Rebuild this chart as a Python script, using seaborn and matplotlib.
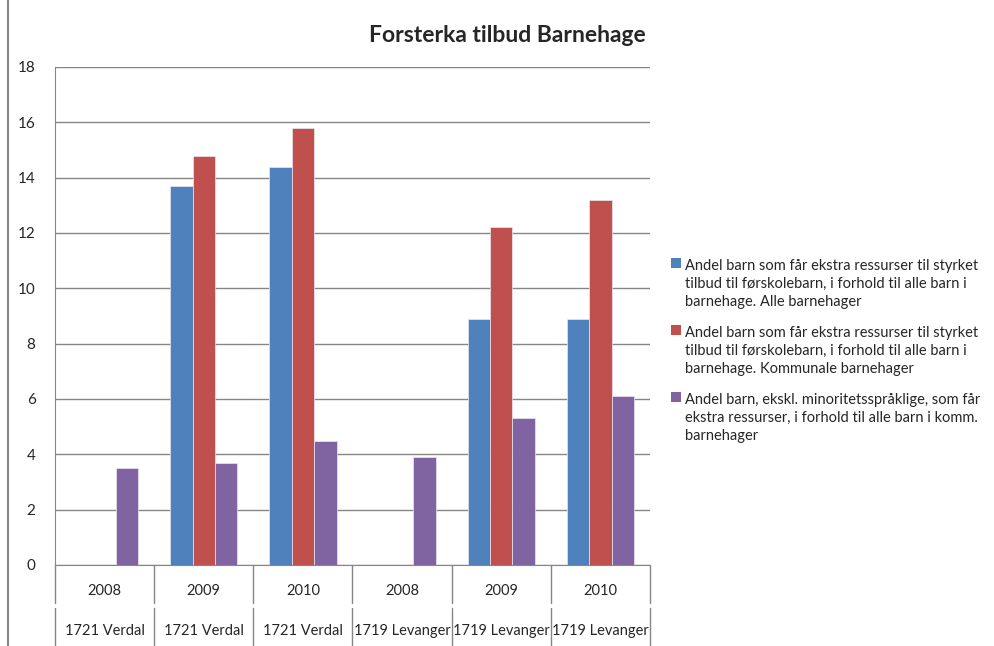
import pandas as pd
import numpy as np
import seaborn as sns
import matplotlib.pyplot as plt
from matplotlib.lines import Line2D
from matplotlib.patches import Rectangle

# data
years = ['2008', '2009', '2010', '2008', '2009', '2010']
kommuner = ['1721 Verdal', '1721 Verdal', '1721 Verdal',
            '1719 Levanger', '1719 Levanger', '1719 Levanger']
alle = [np.nan, 13.7, 14.4, np.nan, 8.9, 8.9]
kommunale = [np.nan, 14.8, 15.8, np.nan, 12.2, 13.2]
ekskl_min = [3.5, 3.7, 4.5, 3.9, 5.3, 6.1]

series_names = [
    'Andel barn som får ekstra ressurser til styrket\ntilbud til førskolebarn, i forhold til alle barn i\nbarnehage. Alle barnehager',
    'Andel barn som får ekstra ressurser til styrket\ntilbud til førskolebarn, i forhold til alle barn i\nbarnehage. Kommunale barnehager',
    'Andel barn, ekskl. minoritetsspråklige, som får\nekstra ressurser, i forhold til alle barn i komm.\nbarnehager',
]
colors = ['#4F81BD', '#C0504D', '#8064A2']

keys = [f'{k} {y}' for k, y in zip(kommuner, years)]
rows = []
for name, vals in zip(series_names, [alle, kommunale, ekskl_min]):
    for key, v in zip(keys, vals):
        rows.append({'kat': key, 'serie': name, 'verdi': v})
df = pd.DataFrame(rows)

sns.set_style('white')
plt.rcParams['font.family'] = ['Lato', 'DejaVu Sans']

fig = plt.figure(figsize=(9.95, 6.46), dpi=100)
ax = fig.add_axes([55 / 995, 81 / 646, 595 / 995, 498 / 646])

sns.barplot(data=df, x='kat', y='verdi', hue='serie', order=keys,
            hue_order=series_names, palette=colors, saturation=1, width=0.68,
            edgecolor='#e8e8f0', linewidth=0.5, ax=ax, legend=False)

ax.set_ylim(0, 18)
ax.set_xlim(-0.5, 5.5)
ax.set_yticks(range(0, 19, 2))
ax.tick_params(axis='y', labelsize=11, length=0, pad=14)
ax.set_xticks([])
ax.set_xlabel('')
ax.set_ylabel('')
ax.grid(axis='y', color='#868686', linewidth=1)
ax.set_axisbelow(True)
for s in ['top', 'right']:
    ax.spines[s].set_visible(False)
ax.spines['left'].set_color('#868686')
ax.spines['bottom'].set_color('#868686')

# two-level category axis
trans = ax.get_xaxis_transform()
for i in range(len(keys)):
    ax.text(i, -0.052, years[i], transform=trans, ha='center', va='center', fontsize=10.5)
    ax.text(i, -0.133, kommuner[i], transform=trans, ha='center', va='center', fontsize=10.5)
for b in np.arange(-0.5, 6, 1):
    ax.plot([b, b], [0, -0.077], transform=trans, color='#868686', lw=1, clip_on=False)
    ax.plot([b, b], [-0.087, -0.165], transform=trans, color='#868686', lw=1, clip_on=False)

fig.text(507 / 995, 1 - 35 / 646, 'Forsterka tilbud Barnehage', ha='center', va='center',
         fontsize=16.5, fontweight='bold')

# legend, handle next to the first line of each entry
for j, (name, c) in enumerate(zip(series_names, colors)):
    y_mid = 284 + j * 67
    y_first = 263 + j * 67
    fig.text(685 / 995, 1 - y_mid / 646, name, ha='left', va='center',
             fontsize=10.5, linespacing=1.38)
    fig.add_artist(Rectangle((671 / 995, 1 - (y_first + 5) / 646), 10 / 995, 10 / 646,
                             facecolor=c, edgecolor='none', transform=fig.transFigure))

fig.add_artist(Line2D([8 / 995, 8 / 995], [0, 1], color='#868686', lw=1.5))

fig.savefig('out.png', dpi=100)
